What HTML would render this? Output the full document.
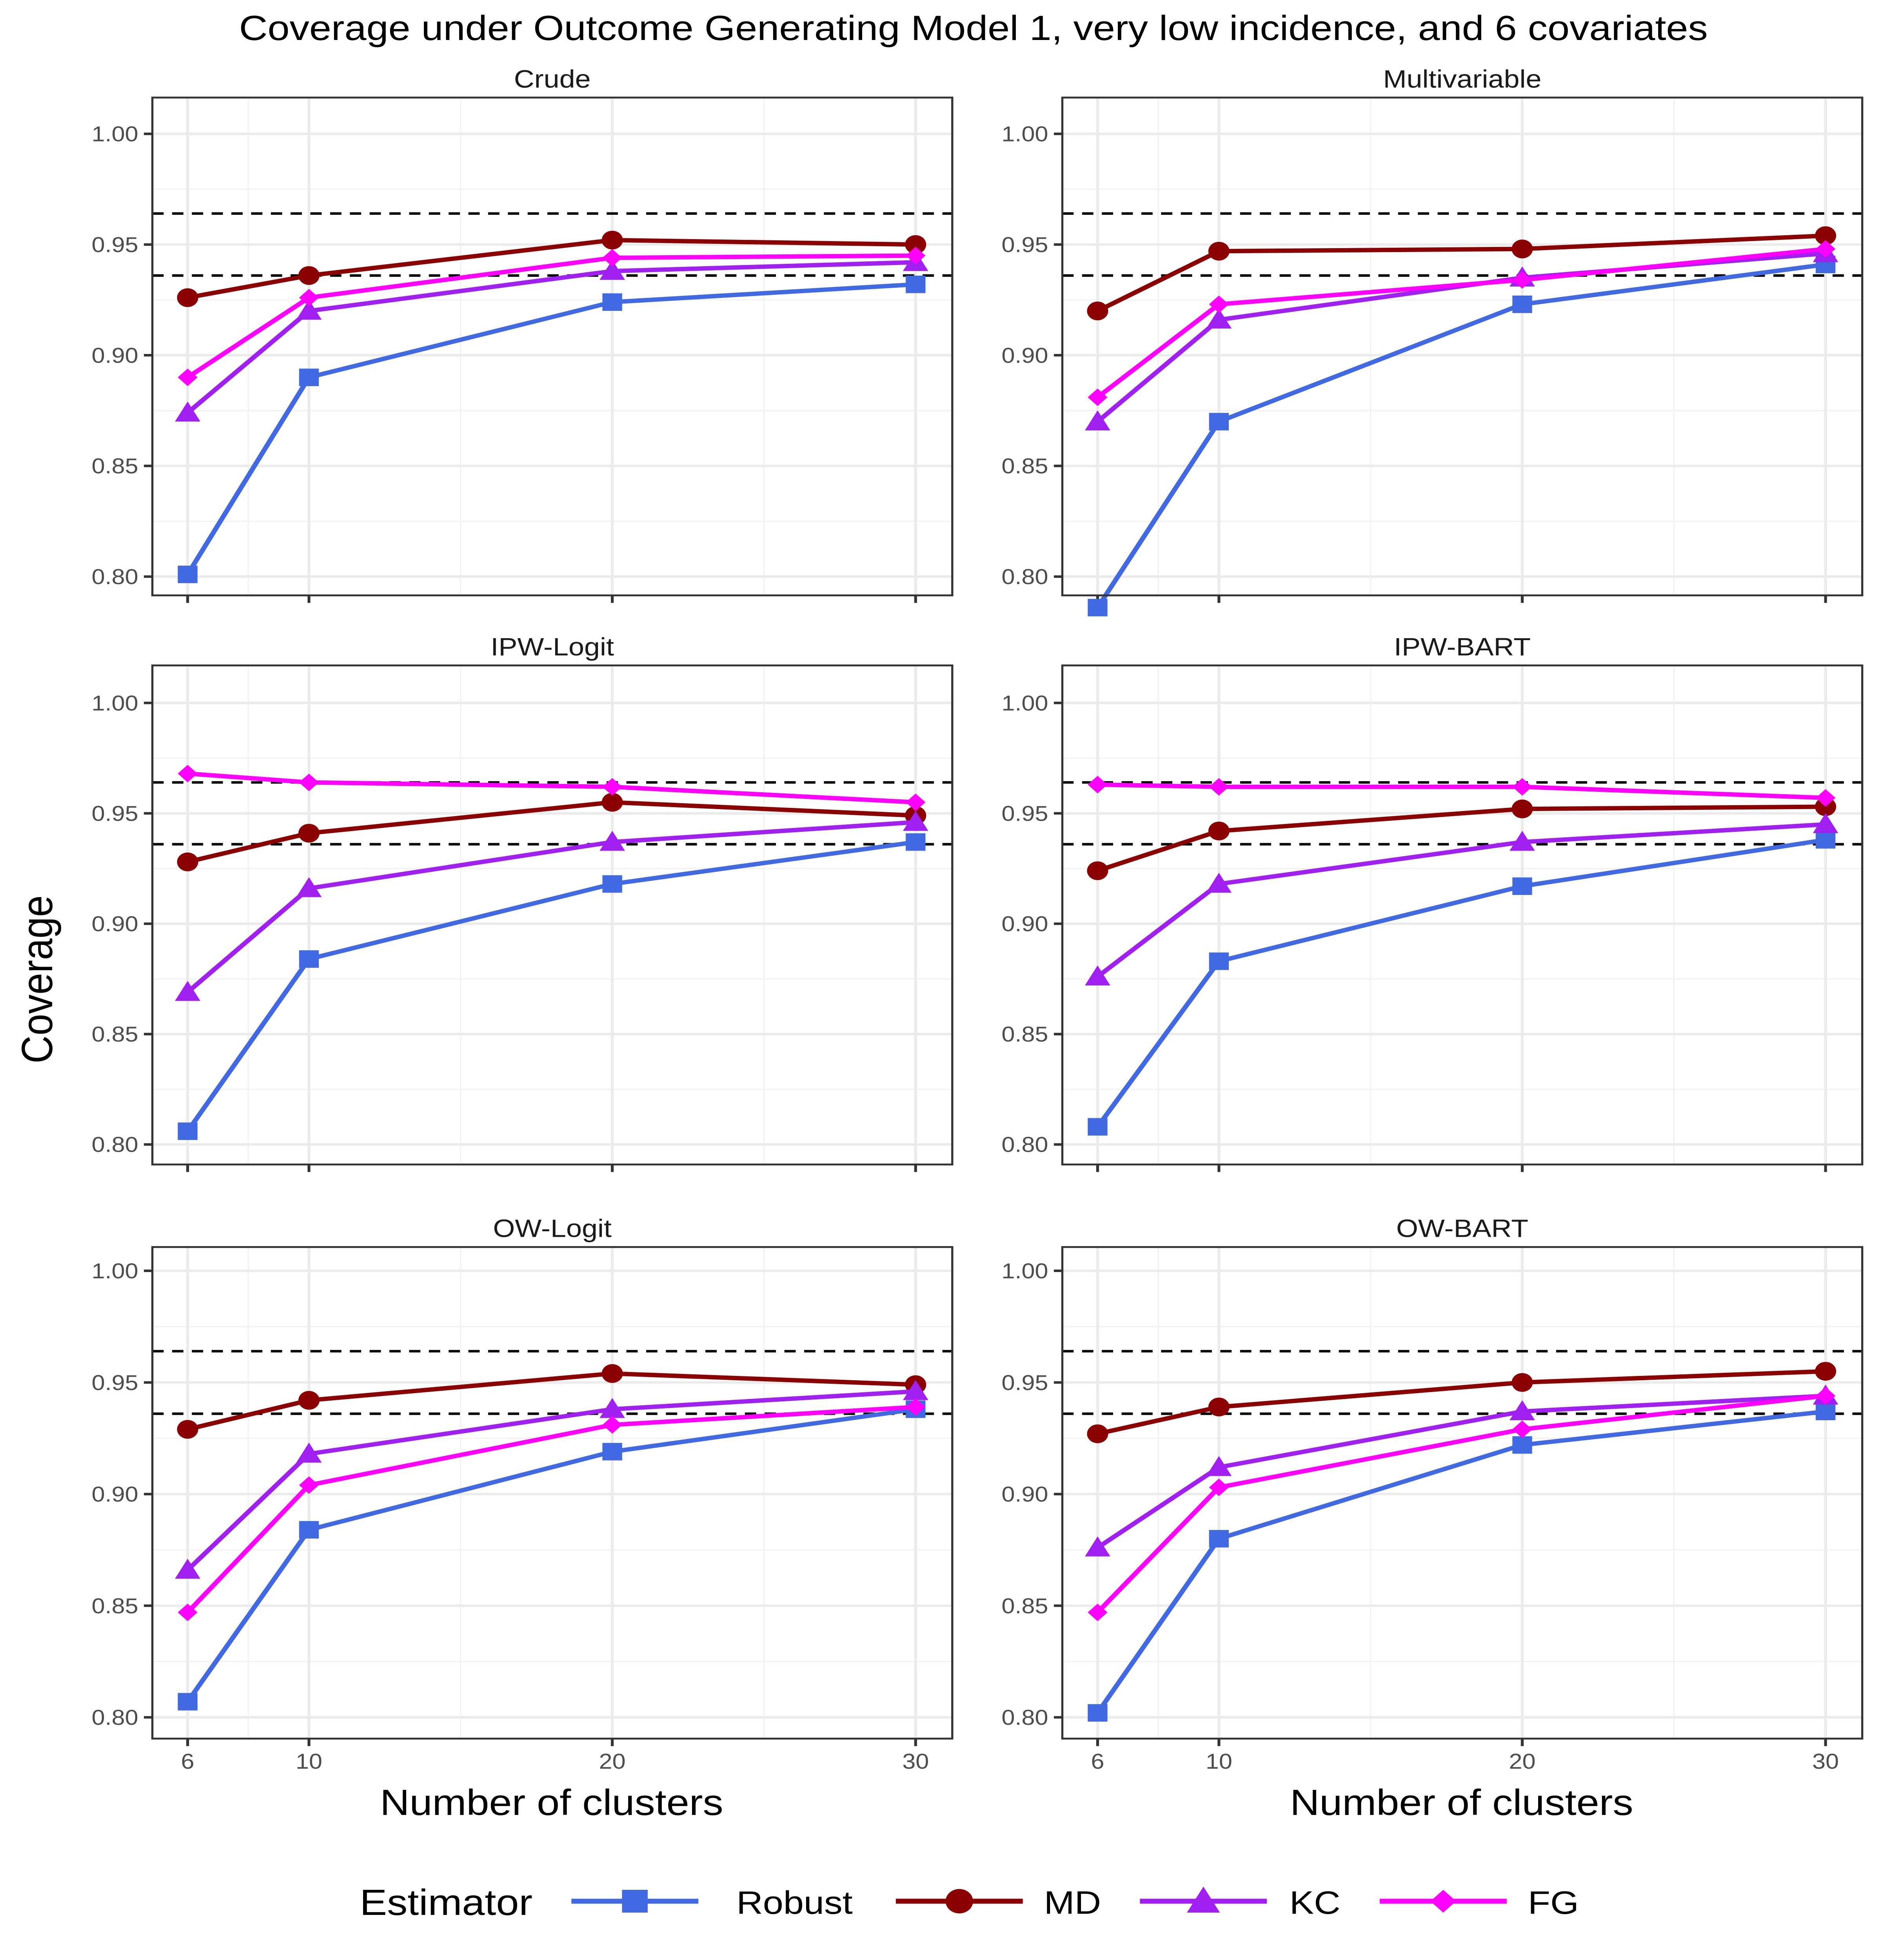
<!DOCTYPE html>
<html><head><meta charset="utf-8"><style>html,body{margin:0;padding:0;background:#fff;overflow:hidden;width:100vw;height:100vh}svg{display:block;width:100vw;height:100vh}</style></head>
<body>
<svg id="chart" viewBox="0 0 1334 1567" preserveAspectRatio="none" xmlns="http://www.w3.org/2000/svg" font-family="'Liberation Sans', sans-serif">
<rect width="1334" height="1567" fill="#fff"/>
<text x="690" y="32" font-size="28" text-anchor="middle" fill="#000">Coverage under Outcome Generating Model 1, very low incidence, and 6 covariates</text>
<text transform="translate(37,783) rotate(-90)" font-size="31" text-anchor="middle">Coverage</text>
<text x="391" y="1451" font-size="29" text-anchor="middle">Number of clusters</text>
<text x="1036" y="1451" font-size="29" text-anchor="middle">Number of clusters</text>
<g id="panels"></g>
<g id="legend"></g>
</svg>
<script>
const clusters=[6,10,20,30];
const yTicks=[0.80,0.85,0.90,0.95,1.00];
const yTickLabels=["0.80","0.85","0.90","0.95","1.00"];
const refLines=[0.964,0.936];
const panelTitles=["Crude","Multivariable","IPW-Logit","IPW-BART","OW-Logit","OW-BART"];
const estimators=["Robust","MD","KC","FG"];
const robust=[[0.801,0.890,0.924,0.932],[0.786,0.870,0.923,0.941],[0.806,0.884,0.918,0.937],[0.808,0.883,0.917,0.938],[0.807,0.884,0.919,0.938],[0.802,0.880,0.922,0.937]];
const md=[[0.926,0.936,0.952,0.950],[0.920,0.947,0.948,0.954],[0.928,0.941,0.955,0.949],[0.924,0.942,0.952,0.953],[0.929,0.942,0.954,0.949],[0.927,0.939,0.950,0.955]];
const kc=[[0.874,0.920,0.938,0.942],[0.870,0.916,0.935,0.946],[0.869,0.916,0.937,0.946],[0.876,0.918,0.937,0.945],[0.866,0.918,0.938,0.946],[0.876,0.912,0.937,0.944]];
const fg=[[0.890,0.926,0.944,0.945],[0.881,0.923,0.934,0.948],[0.968,0.964,0.962,0.955],[0.963,0.962,0.962,0.957],[0.847,0.904,0.931,0.939],[0.847,0.903,0.929,0.944]];
const series=[robust,md,kc,fg];
const colors=["#4169E1","#8B0000","#A020F0","#FF00FF"];
const NS="http://www.w3.org/2000/svg";
function mk(tag,attrs,parent){const e=document.createElementNS(NS,tag);for(const k in attrs)e.setAttribute(k,attrs[k]);parent.appendChild(e);return e;}
function marker(kind,x,y,col,parent,big){
  const s=big?1.3:1;let e;
  if(kind===0)e=mk('rect',{x:x-7*s,y:y-7*s,width:14*s,height:14*s,fill:col},parent);
  else if(kind===1)e=mk('circle',{cx:x,cy:y,r:7.5*s,fill:col},parent);
  else if(kind===2)e=mk('polygon',{points:`${x},${y-9*s} ${x+9*s},${y+7*s} ${x-9*s},${y+7*s}`,fill:col},parent);
  else e=mk('polygon',{points:`${x},${y-7*s} ${x+7*s},${y} ${x},${y+7*s} ${x-7*s},${y}`,fill:col},parent);
  return e;
}
const panelsG=document.getElementById('panels');
const cols=[{x0:108,x1:675,t6:133,t30:649},{x0:753,x1:1320,t6:778,t30:1294}];
const rows=[{y0:78,y1:476,v1:107,v08:461},{y0:532,y1:931,v1:562,v08:915},{y0:997,y1:1390,v1:1016,v08:1373}];
const minorX=[8,15,25], minorY=[0.825,0.875,0.925,0.975];
for(let p=0;p<6;p++){
  const c=cols[p%2], r=rows[Math.floor(p/2)];
  const X=v=>c.t6+(v-6)*(c.t30-c.t6)/24;
  const Y=v=>r.v08+(v-0.8)*(r.v1-r.v08)/0.2;
  const g=mk('g',{},panelsG);
  
  
  const t=mk('text',{x:(c.x0+c.x1)/2,y:r.y0-8,'font-size':20,'text-anchor':'middle',fill:'#1a1a1a'},g);t.textContent=panelTitles[p];
  
  minorX.forEach(v=>mk('line',{x1:X(v),x2:X(v),y1:r.y0,y2:r.y1,stroke:'#f2f2f2','stroke-width':1},g));
  minorY.forEach(v=>mk('line',{x1:c.x0,x2:c.x1,y1:Y(v),y2:Y(v),stroke:'#f2f2f2','stroke-width':1},g));
  clusters.forEach(v=>{mk('line',{x1:X(v),x2:X(v),y1:r.y0,y2:r.y1,stroke:'#ebebeb','stroke-width':2},g);
    mk('line',{x1:X(v),x2:X(v),y1:r.y1,y2:r.y1+6,stroke:'#333','stroke-width':2},g);
    if(p>=4){const tl=mk('text',{x:X(v),y:r.y1+24,'font-size':17,'text-anchor':'middle',fill:'#4d4d4d'},g);tl.textContent=v;
      }});
  yTicks.forEach((v,i)=>{mk('line',{x1:c.x0,x2:c.x1,y1:Y(v),y2:Y(v),stroke:'#ebebeb','stroke-width':2},g);
    mk('line',{x1:c.x0-6,x2:c.x0,y1:Y(v),y2:Y(v),stroke:'#333','stroke-width':2},g);
    const tl=mk('text',{x:c.x0-10,y:Y(v)+6,'font-size':17,'text-anchor':'end',fill:'#4d4d4d'},g);tl.textContent=yTickLabels[i];
    });
  refLines.forEach(v=>{const l=mk('line',{x1:c.x0,x2:c.x1,y1:Y(v),y2:Y(v),stroke:'#000','stroke-width':2,'stroke-dasharray':'8,6'},g);
    });
  series.forEach((s,k)=>{
    const pts=s[p].map((v,i)=>X(clusters[i])+','+Y(v)).join(' ');
    const pl=mk('polyline',{points:pts,fill:'none',stroke:colors[k],'stroke-width':3.5},g);
    
    s[p].forEach((v,i)=>{const m=marker(k,X(clusters[i]),Y(v),colors[k],g);
      });
  });
  mk('rect',{x:c.x0,y:r.y0,width:c.x1-c.x0,height:r.y1-r.y0,fill:'none',stroke:'#333','stroke-width':1.5},g);
}
const lg=document.getElementById('legend');
const lt=mk('text',{x:255,y:1531,'font-size':29},lg);lt.textContent='Estimator';

const lx=[405,635,808,978], tx=[522,740,914,1083];
estimators.forEach((e,k)=>{
  const eg=mk('g',{},lg);
  
  
  mk('line',{x1:lx[k],x2:lx[k]+90,y1:1520,y2:1520,stroke:colors[k],'stroke-width':4},eg);
  marker(k,lx[k]+45,1520,colors[k],eg,true);
  const t=mk('text',{x:tx[k],y:1530,'font-size':26},eg);t.textContent=e;
});
</script>
</body></html>
